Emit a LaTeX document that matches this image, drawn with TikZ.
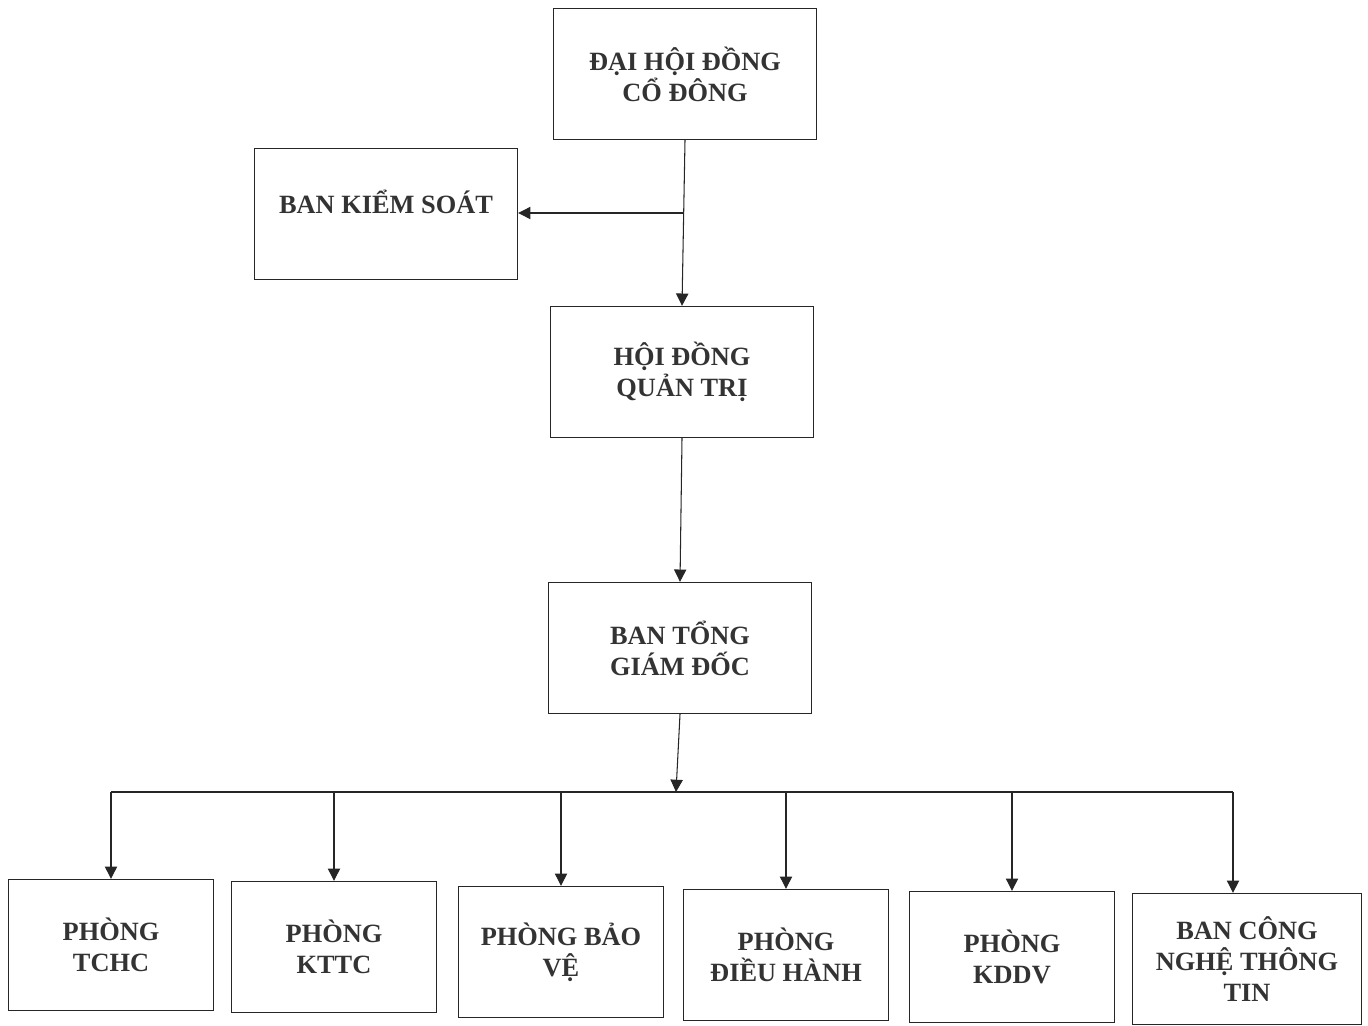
\documentclass[tikz,border=0pt]{standalone}
\usepackage{fontspec}
\setmainfont{Liberation Serif}
\usetikzlibrary{arrows.meta}

\begin{document}
\begin{tikzpicture}[x=0.02cm,y=-0.02cm,
  box/.style={draw=black!85,line width=0.8pt,align=center,inner sep=2pt,
    minimum width=5.26cm,minimum height=2.62cm,
    font=\bfseries\fontsize{15}{17.6}\selectfont,text=black!80},
  unit/.style={box,minimum width=4.1cm},
  link/.style={draw=black!85,line width=0.6pt,-{Triangle[length=7pt,width=7pt]}}]
  \useasboundingbox (0,0) rectangle (1368,1025);
  \node[box] (dhdcd) at (685,74) {ĐẠI HỘI ĐỒNG\\CỔ ĐÔNG};
  \node[box] (bks) at (386,214) {BAN KIỂM SOÁT\\[-4pt]\mbox{}};
  \node[box] (hdqt) at (682,372) {HỘI ĐỒNG\\QUẢN TRỊ};
  \node[box] (btgd) at (680,648) {BAN TỔNG\\GIÁM ĐỐC};
  \node[unit] (tchc) at (111,945) {PHÒNG\\TCHC};
  \node[unit] (kttc) at (334,947) {PHÒNG\\KTTC};
  \node[unit] (bv) at (561,952) {PHÒNG BẢO\\VỆ};
  \node[unit] (dh) at (786,955) {PHÒNG\\ĐIỀU HÀNH};
  \node[unit] (kddv) at (1012,957) {PHÒNG\\KDDV};
  \node[unit,minimum width=4.58cm] (cntt) at (1247,959) {BAN CÔNG\\NGHỆ THÔNG\\TIN};
  \coordinate (split) at (683,213);
  \coordinate (bus) at (676,792);
  \coordinate (cnttin) at ([xshift=-0.28cm]cntt.north);
  \draw[link] (dhdcd.south) -- (hdqt.north);
  \draw[link] (split) -- (bks.east |- split);
  \draw[link] (hdqt.south) -- (btgd.north);
  \draw[link] (btgd.south) -- (bus);
  \draw[draw=black!85,line width=0.6pt] (tchc.north |- bus) -- (cnttin |- bus);
  \foreach \u in {tchc.north,kttc.north,bv.north,dh.north,kddv.north,cnttin}
    \draw[link] (\u |- bus) -- (\u);
\end{tikzpicture}
\end{document}
